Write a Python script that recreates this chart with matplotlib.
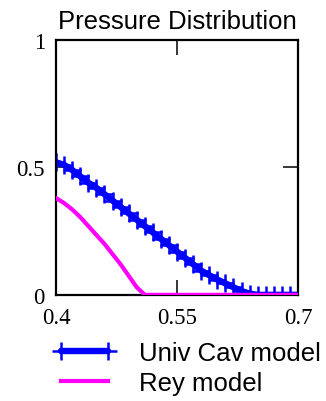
import matplotlib
matplotlib.use('Agg')
import matplotlib.pyplot as plt

x = [0.40, 0.41, 0.42, 0.43, 0.44, 0.45, 0.46, 0.47, 0.48, 0.49, 0.50,
     0.51, 0.52, 0.53, 0.54, 0.55, 0.56, 0.57, 0.58, 0.59, 0.60,
     0.61, 0.62, 0.63, 0.64, 0.65, 0.66, 0.67, 0.68, 0.69, 0.70]
p_univ = [0.52, 0.51, 0.49, 0.465, 0.44, 0.42, 0.395, 0.37, 0.345, 0.32, 0.295,
          0.27, 0.245, 0.22, 0.195, 0.17, 0.145, 0.12, 0.095, 0.077, 0.06,
          0.045, 0.03, 0.015, 0.005, 0.0, 0.0, 0.0, 0.0, 0.0, 0.0]
p_rey = [0.38, 0.36, 0.335, 0.305, 0.27, 0.235, 0.2, 0.16, 0.12, 0.075, 0.03,
         0.0, 0.0, 0.0, 0.0, 0.0, 0.0, 0.0, 0.0, 0.0, 0.0,
         0.0, 0.0, 0.0, 0.0, 0.0, 0.0, 0.0, 0.0, 0.0, 0.0]
xticks = [0.4, 0.55, 0.7]
xticklabels = ['0.4', '0.55', '0.7']
yticks = [0, 0.5, 1]
yticklabels = ['0', '0.5', '1']

fig = plt.figure(figsize=(3.26, 4.02), dpi=100)
ax = fig.add_axes([0.172, 0.264, 0.742, 0.634])

ax.plot(x, p_univ, color='#0000ff', lw=4.6, marker='+', ms=13, mew=1.8,
        solid_capstyle='round', solid_joinstyle='round',
        label='Univ Cav model', zorder=2)
ax.plot(x, p_rey, color='#ff00ff', lw=3.0, solid_joinstyle='round',
        label='Rey model', zorder=3)

ax.set_xlim(0.4, 0.7)
ax.set_ylim(0, 1)
ax.set_xticks(xticks)
ax.set_xticklabels(xticklabels, family='Liberation Serif', fontsize=16.5)
ax.set_yticks(yticks)
ax.set_yticklabels(yticklabels, family='Liberation Serif', fontsize=16.5)
ax.tick_params(direction='in', length=11, width=1.1, top=True, right=True)
ax.tick_params(axis='x', pad=9)
ax.tick_params(axis='y', pad=8)
for s in ax.spines.values():
    s.set_linewidth(1.6)

ax.set_title('Pressure Distribution', family='Liberation Sans', fontsize=18.5, pad=9)

leg = fig.legend(loc='upper left', bbox_to_anchor=(0.163, 0.15), frameon=False,
                 prop={'family': 'Liberation Sans', 'size': 18.5},
                 numpoints=2, handlelength=2.45, handletextpad=0.9, labelspacing=0.25,
                 borderpad=0, borderaxespad=0)

plt.savefig('out.png', dpi=100)
